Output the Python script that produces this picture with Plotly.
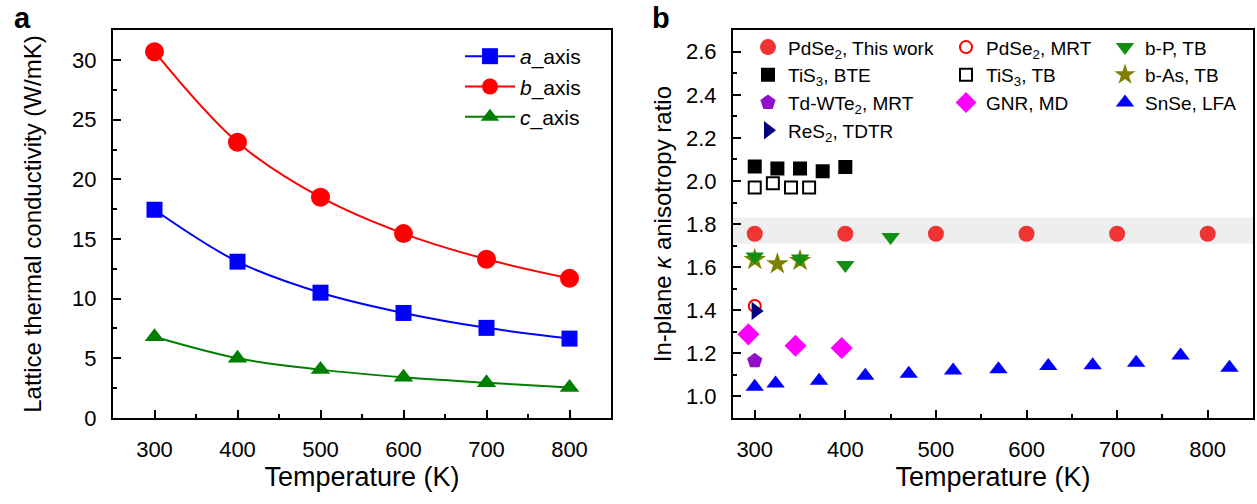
import plotly.graph_objects as go

# ---------------- Panel a data ----------------
temps_a = [300, 400, 500, 600, 700, 800]
a_axis = [17.45, 13.1, 10.5, 8.8, 7.55, 6.65]
b_axis = [30.7, 23.1, 18.5, 15.45, 13.3, 11.7]
c_axis = [6.8, 5.0, 4.05, 3.4, 2.95, 2.55]

# ---------------- Panel b data ----------------
pdse2_this_T = [300, 400, 500, 600, 700, 800]
pdse2_this_r = [1.755, 1.755, 1.755, 1.755, 1.755, 1.755]
pdse2_mrt_T = [300]
pdse2_mrt_r = [1.42]
bp_T = [300, 350, 400, 450]
bp_r = [1.65, 1.64, 1.61, 1.74]
tis3_bte_T = [300, 325, 350, 375, 400]
tis3_bte_r = [2.067, 2.058, 2.058, 2.045, 2.065]
tis3_tb_T = [300, 320, 340, 360]
tis3_tb_r = [1.97, 1.99, 1.97, 1.97]
bas_T = [300, 325, 350]
bas_r = [1.635, 1.615, 1.63]
wte2_T = [300]
wte2_r = [1.165]
gnr_T = [293, 345, 396]
gnr_r = [1.288, 1.235, 1.225]
snse_T = [300, 323, 371, 422, 470, 519, 569, 624, 673, 721, 770, 824]
snse_r = [1.045, 1.06, 1.073, 1.096, 1.105, 1.12, 1.126, 1.141, 1.145, 1.156, 1.19, 1.133]
res2_T = [301]
res2_r = [1.397]
band_low, band_high = 1.71, 1.83

FONT = "Liberation Sans, Arial, sans-serif"
W, H = 1257, 504

fig = go.Figure()

# panel a traces
for name, vals, col, sym, sz in [
    ("<i>a</i>_axis", a_axis, "#0000ff", "square", 16),
    ("<i>b</i>_axis", b_axis, "#ff0000", "circle", 19),
    ("<i>c</i>_axis", c_axis, "#007f00", "triangle-up", 17),
]:
    fig.add_trace(go.Scatter(
        x=temps_a, y=vals, name=name, mode="lines+markers",
        line=dict(color=col, width=2, shape="spline", smoothing=1.0),
        marker=dict(symbol=sym, size=sz, color=col, line=dict(width=0)),
        xaxis="x", yaxis="y", legend="legend"))

# panel b traces: (name, x, y, symbol, color, size, legend, open-line-width)
series_b = [
    ("PdSe<sub>2</sub>, This work", pdse2_this_T, pdse2_this_r, "circle", "#f03333", 16, "legend2", None),
    ("TiS<sub>3</sub>, BTE", tis3_bte_T, tis3_bte_r, "square", "#000000", 14, "legend2", None),
    ("Td-WTe<sub>2</sub>, MRT", wte2_T, wte2_r, "pentagon", "#8f10c8", 16, "legend2", None),
    ("ReS<sub>2</sub>, TDTR", res2_T, res2_r, "triangle-right", "#000080", 16, "legend2", None),
    ("PdSe<sub>2</sub>, MRT", pdse2_mrt_T, pdse2_mrt_r, "circle-open", "#ff0000", 12, "legend3", 2),
    ("TiS<sub>3</sub>, TB", tis3_tb_T, tis3_tb_r, "square-open", "#000000", 12, "legend3", 2),
    ("GNR, MD", gnr_T, gnr_r, "diamond", "#ff00ff", 17, "legend3", None),
    ("b-P, TB", bp_T, bp_r, "triangle-down", "#108f10", 16, "legend4", None),
    ("b-As, TB", bas_T, bas_r, "star", "#808000", 17, "legend4", None),
    ("SnSe, LFA", snse_T, snse_r, "triangle-up", "#0000ff", 16, "legend4", None),
]
# draw order: stars under b-P
order = [0, 1, 5, 8, 7, 2, 6, 4, 3, 9]
for i in order:
    name, xs, ys, sym, col, sz, leg, lw = series_b[i]
    mk = dict(symbol=sym, size=sz, color=col)
    mk["line"] = dict(color=col, width=lw) if lw else dict(width=0)
    fig.add_trace(go.Scatter(
        x=xs, y=ys, name=name, mode="markers", marker=mk,
        xaxis="x2", yaxis="y2", legend=leg, legendrank=i + 1))

fig.add_shape(type="rect", xref="x2 domain", yref="y2", x0=0, x1=1,
              y0=band_low, y1=band_high, fillcolor="#eeeeee",
              line=dict(width=0), layer="below")

ydom = [1 - 429 / H, 1 - 31 / H]
axis_common = dict(
    showline=True, mirror=True, linecolor="black", linewidth=2,
    ticks="inside", ticklen=8, tickwidth=2, tickcolor="black",
    showgrid=False, zeroline=False,
    tickfont=dict(family=FONT, size=22, color="black"),
)
minor_x = dict(ticks="inside", ticklen=4, dtick=50, tickwidth=2, tickcolor="black")
fig.update_layout(
    width=W, height=H, margin=dict(l=0, r=0, t=0, b=0),
    paper_bgcolor="white", plot_bgcolor="white",
    font=dict(family=FONT, color="black"),
    xaxis=dict(domain=[113 / W, 611 / W], range=[250, 850], dtick=100, minor=minor_x,
               ticklabelstandoff=11,
               title=dict(text="Temperature (K)", font=dict(size=27), standoff=4),
               anchor="y", **axis_common),
    yaxis=dict(domain=ydom, range=[0, 32.5], dtick=5,
               minor=dict(ticks="inside", ticklen=4, dtick=2.5, tickwidth=2, tickcolor="black"),
               ticklabelstandoff=10,
               title=dict(text="Lattice thermal conductivity (W/mK)", font=dict(size=24), standoff=24),
               anchor="x", **axis_common),
    xaxis2=dict(domain=[733 / W, 1253 / W], range=[276, 850], dtick=100, minor=minor_x,
                ticklabelstandoff=11,
                title=dict(text="Temperature (K)", font=dict(size=27), standoff=4),
                anchor="y2", **axis_common),
    yaxis2=dict(domain=ydom, range=[0.9, 2.7], dtick=0.2, tickformat=".1f",
                minor=dict(ticks="inside", ticklen=4, dtick=0.1, tickwidth=2, tickcolor="black"),
                ticklabelstandoff=10,
                title=dict(text="In-plane <i>κ</i> anisotropy ratio", font=dict(size=24), standoff=8),
                anchor="x2", **axis_common),
    legend=dict(x=460 / W, y=1 - 37 / H, xanchor="left", yanchor="top",
                bgcolor="rgba(0,0,0,0)", font=dict(size=21, family=FONT),
                itemwidth=50, tracegroupgap=0),
    legend2=dict(x=748 / W, y=1 - 29 / H, xanchor="left", yanchor="top",
                 bgcolor="rgba(0,0,0,0)", font=dict(size=19, family=FONT),
                 itemwidth=30, tracegroupgap=0),
    legend3=dict(x=946 / W, y=1 - 29 / H, xanchor="left", yanchor="top",
                 bgcolor="rgba(0,0,0,0)", font=dict(size=19, family=FONT),
                 itemwidth=30, tracegroupgap=0),
    legend4=dict(x=1105 / W, y=1 - 29 / H, xanchor="left", yanchor="top",
                 bgcolor="rgba(0,0,0,0)", font=dict(size=19, family=FONT),
                 itemwidth=30, tracegroupgap=0),
    showlegend=True,
)
fig.add_annotation(text="<b>a</b>", xref="paper", yref="paper", x=22 / W, y=1,
                   xanchor="center", yanchor="top", showarrow=False,
                   font=dict(size=29, family=FONT, color="black"))
fig.add_annotation(text="<b>b</b>", xref="paper", yref="paper", x=661 / W, y=1,
                   xanchor="center", yanchor="top", showarrow=False,
                   font=dict(size=29, family=FONT, color="black"))

fig.write_html("out.html", config={"displayModeBar": False},
               post_script="document.body.style.margin='0px';")
